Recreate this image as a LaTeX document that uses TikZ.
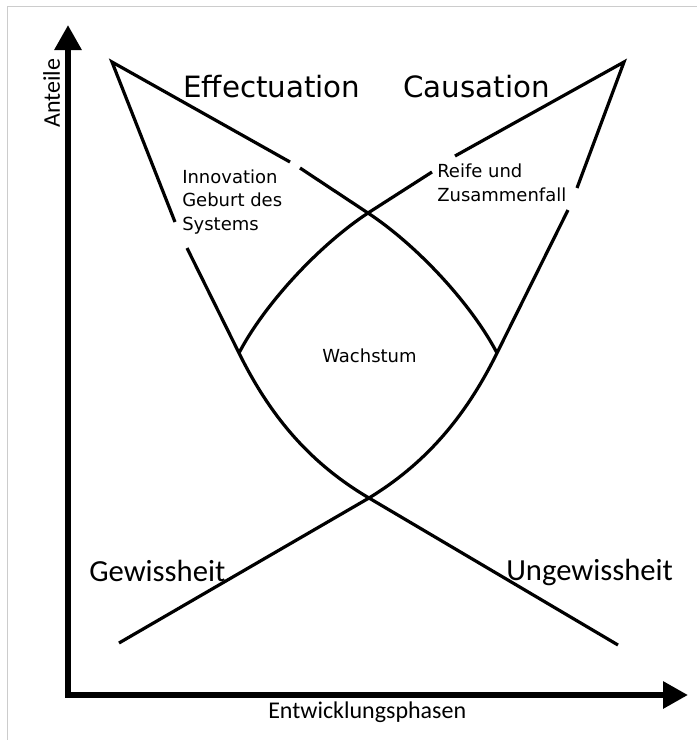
\documentclass[tikz,border=0pt]{standalone}
\usepackage{fontspec}
\setmainfont{DejaVu Sans}
\newfontfamily\calibfont{Carlito}
\usetikzlibrary{arrows.meta}

\begin{document}
\begin{tikzpicture}[
            x=0.75pt, y=-0.75pt,
            >={Triangle[length=18.75pt,width=19.5pt]},
            curve/.style={line width=2.4pt, line join=round},
            tipline/.style={line width=2.4pt, line join=miter},
            axis/.style={line width=4.5pt, line join=miter, <->},
            frame/.style={draw=black!20, line width=0.75pt},
            big/.style={font=\fontsize{22}{26}\selectfont, inner sep=0pt},
            small/.style={font=\fontsize{13.5}{17.6}\selectfont, inner sep=0pt, align=left},
            side/.style={font=\calibfont\fontsize{23}{27}\selectfont, inner sep=0pt},
            axlabel/.style={font=\calibfont\fontsize{18}{21}\selectfont, inner sep=0pt}
        ]
    \useasboundingbox (0,0) rectangle (697,740);
    \draw[frame] (7,740) -- (7,6) -- (697,6);

    \coordinate (ltip) at (112,62);
    \coordinate (rtip) at (624,62);
    \coordinate (vl) at (239,353);
    \coordinate (vr) at (497,353);
    \coordinate (xup) at (368,213);
    \coordinate (xlo) at (369,498);
    \coordinate (gend) at (119,643);
    \coordinate (uend) at (618,645);
    \coordinate (ga1) at (290,162);
    \coordinate (ga2) at (300,168);
    \coordinate (gb1) at (175,222);
    \coordinate (gb2) at (187,248);
    \coordinate (gc1) at (455,156);
    \coordinate (gc2) at (432,172);
    \coordinate (gd1) at (577,188);
    \coordinate (gd2) at (568,210);

    \draw[tipline] (ga1) -- (ltip) -- (gb1);
    \draw[tipline] (gc1) -- (rtip) -- (gd1);
    \draw[curve] (ga2) -- (xup) .. controls (418,246) and (472,305) .. (vr);
    \draw[curve] (gc2) -- (xup) .. controls (318,246) and (264,305) .. (vl);
    \draw[curve] (gb2) -- (vl) .. controls (272,420) and (313,465) .. (xlo) -- (uend);
    \draw[curve] (gd2) -- (vr) .. controls (464,420) and (423,465) .. (xlo) -- (gend);

    \coordinate (ytop) at (68,25);
    \coordinate (origin) at (68,695);
    \coordinate (xend) at (688,695);
    \draw[axis] (ytop) -- (origin) -- (xend);

    \node[big, anchor=base west] (effect) at (183,97) {Effectuation};
    \node[big, anchor=base west] (causat) at (403,97) {Causation};
    \node[small, anchor=base west] (innov) at (182,230) {Innovation\\Geburt des\\Systems};
    \node[small, anchor=base west] (reife) at (437,201) {Reife und\\Zusammenfall};
    \node[small, anchor=base west] (wachs) at (322,362) {Wachstum};
    \node[side, anchor=base west] (gewiss) at (89,581) {Gewissheit};
    \node[side, anchor=base west] (ungewiss) at (506,580) {Ungewissheit};
    \node[axlabel, anchor=base west] (xlabel) at (268,718) {Entwicklungsphasen};
    \node[axlabel, anchor=base west, rotate=90] (ylabel) at (60,128) {Anteile};
\end{tikzpicture}
\end{document}
